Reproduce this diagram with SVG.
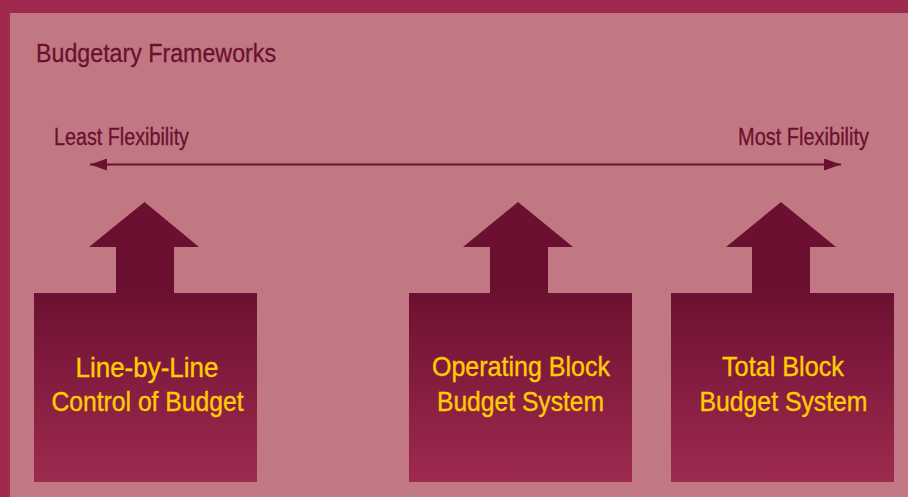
<svg xmlns="http://www.w3.org/2000/svg" width="908" height="497" viewBox="0 0 908 497">
<defs>
<linearGradient id="boxGrad" x1="0" y1="0" x2="0" y2="1">
<stop offset="0" stop-color="#6c1131"/>
<stop offset="1" stop-color="#9e2a4f"/>
</linearGradient>
<marker id="head" viewBox="0 0 17 12" refX="17" refY="6" markerWidth="17" markerHeight="12" markerUnits="userSpaceOnUse" orient="auto-start-reverse">
<path d="M0,0 L17,6 L0,12 Z" fill="#6b1030"/>
</marker>
<style>
.dark{fill:#6b1030;stroke:#6b1030;stroke-width:0.3;font-family:"Liberation Sans Narrow","Liberation Sans",Arial,sans-serif;}
.yel{fill:#ffcb05;stroke:#ffcb05;stroke-width:0.4;font-family:"Liberation Sans Narrow","Liberation Sans",Arial,sans-serif;font-size:28px;text-anchor:middle;}
.box{fill:url(#boxGrad);}
.arrow{fill:#6b1030;}
</style>
</defs>
<rect x="0" y="0" width="908" height="497" fill="#a0294f"/>
<rect x="10" y="13" width="898" height="484" fill="#c27882"/>
<text class="dark" x="36" y="62" font-size="26" textLength="240" lengthAdjust="spacingAndGlyphs">Budgetary Frameworks</text>
<text class="dark" x="54" y="145" font-size="23" textLength="135" lengthAdjust="spacingAndGlyphs">Least Flexibility</text>
<text class="dark" x="738" y="145" font-size="23" textLength="131" lengthAdjust="spacingAndGlyphs">Most Flexibility</text>
<g id="connectors">
<line x1="90" y1="164.5" x2="841" y2="164.5" stroke="#6b1030" stroke-width="2" marker-start="url(#head)" marker-end="url(#head)"/>
</g>
<g id="node-line-by-line">
<rect class="box" x="34" y="293" width="223" height="189"/>
<polygon class="arrow" points="144.5,202 199,247 174,247 174,294 116,294 116,247 89,247"/>
<text class="yel" x="147" y="377" textLength="143" lengthAdjust="spacingAndGlyphs">Line-by-Line</text>
<text class="yel" x="147.5" y="411" textLength="192" lengthAdjust="spacingAndGlyphs">Control of Budget</text>
</g>
<g id="node-operating-block">
<rect class="box" x="409" y="293" width="223" height="189"/>
<polygon class="arrow" points="518,202 573,247 548,247 548,294 490,294 490,247 463,247"/>
<text class="yel" x="521" y="376" textLength="178" lengthAdjust="spacingAndGlyphs">Operating Block</text>
<text class="yel" x="520.5" y="411" textLength="167" lengthAdjust="spacingAndGlyphs">Budget System</text>
</g>
<g id="node-total-block">
<rect class="box" x="671" y="293" width="223" height="189"/>
<polygon class="arrow" points="781,202 836,247 810,247 810,294 752,294 752,247 726,247"/>
<text class="yel" x="783" y="376" textLength="122" lengthAdjust="spacingAndGlyphs">Total Block</text>
<text class="yel" x="783.5" y="411" textLength="168" lengthAdjust="spacingAndGlyphs">Budget System</text>
</g>
</svg>
